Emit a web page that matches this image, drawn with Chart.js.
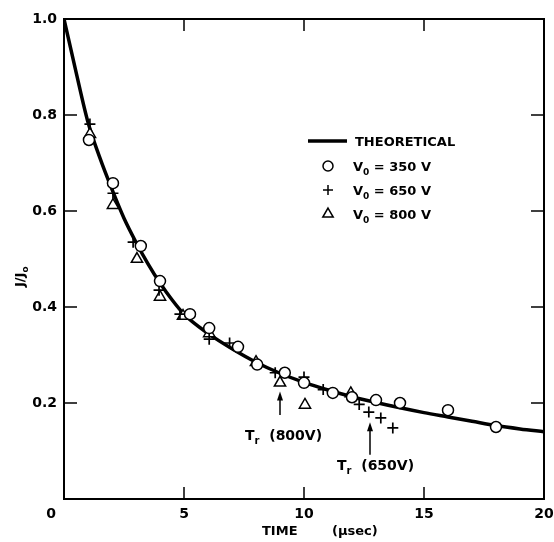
<!DOCTYPE html>
<html>
<head>
<meta charset="utf-8">
<script src="https://cdn.jsdelivr.net/npm/chart.js@4/dist/chart.umd.min.js"></script>
<style>
  html, body { margin: 0; padding: 0; background: #fff; }
  canvas { display: block; }
</style>
</head>
<body>
<canvas id="chart" width="554" height="542"></canvas>
<script>
// theoretical curve
const timeTheory = [0, 0.5, 1, 1.5, 2, 2.5, 3, 3.5, 4, 4.5, 5, 6, 7, 8, 9, 10, 11, 12, 13, 14, 15, 16, 17, 18, 19, 20];
const jTheory = [1.0, 0.89, 0.785, 0.71, 0.645, 0.585, 0.535, 0.49, 0.45, 0.415, 0.385, 0.345, 0.313, 0.285, 0.262, 0.243, 0.227, 0.213, 0.201, 0.19, 0.18, 0.171, 0.162, 0.153, 0.146, 0.14];

// measured points
const t350 = [1.04, 2.04, 3.2, 4.0, 5.25, 6.05, 7.25, 8.05, 9.2, 10.0, 11.2, 12.0, 13.0, 14.0, 16.0, 18.0];
const j350 = [0.748, 0.658, 0.527, 0.454, 0.385, 0.356, 0.317, 0.28, 0.263, 0.242, 0.221, 0.212, 0.206, 0.2, 0.185, 0.15];

const t650 = [1.08, 2.04, 2.88, 3.96, 4.83, 6.05, 6.9, 8.8, 10.0, 10.8, 12.3, 12.7, 13.2, 13.7];
const j650 = [0.781, 0.637, 0.535, 0.435, 0.385, 0.333, 0.325, 0.263, 0.254, 0.228, 0.197, 0.181, 0.169, 0.148];

const t800 = [1.08, 2.04, 3.04, 4.0, 4.96, 6.05, 8.0, 9.0, 10.04, 11.95];
const j800 = [0.76, 0.612, 0.5, 0.421, 0.381, 0.345, 0.285, 0.242, 0.196, 0.22];

const xTicks = [0, 5, 10, 15, 20];
const yTicks = [0.2, 0.4, 0.6, 0.8, 1.0];
const yTickLabels = ["0.2", "0.4", "0.6", "0.8", "1.0"];
const legendLabels = ["350", "650", "800"];
const trTimes = [9.0, 12.75];
const trLabels = ["800", "650"];

const FONT = '"DejaVu Sans", sans-serif';
const pts = (xs, ys) => xs.map((x, i) => ({ x: x, y: ys[i] }));

// text with subscripts: parts = [[text, isSub], ...]
function drawParts(ctx, parts, x, y, size) {
  let cx = x;
  parts.forEach(([txt, sub]) => {
    ctx.font = "bold " + (sub ? Math.round(size * 0.72) : size) + "px " + FONT;
    ctx.fillText(txt, cx, sub ? y + 4 : y);
    cx += ctx.measureText(txt).width;
  });
}

const framePlugin = {
  id: "frame",
  afterDatasetsDraw(chart) {
    const ctx = chart.ctx;
    const a = chart.chartArea;
    const xs = chart.scales.x, ys = chart.scales.y;
    ctx.save();
    ctx.strokeStyle = "#000";
    ctx.fillStyle = "#000";

    // box
    ctx.lineWidth = 2;
    ctx.strokeRect(a.left, a.top, a.right - a.left, a.bottom - a.top);

    // inward ticks
    ctx.lineWidth = 1.5;
    ctx.beginPath();
    xTicks.slice(1, -1).forEach(v => {
      const px = xs.getPixelForValue(v);
      ctx.moveTo(px, a.bottom); ctx.lineTo(px, a.bottom - 12);
      ctx.moveTo(px, a.top); ctx.lineTo(px, a.top + 12);
    });
    yTicks.slice(0, -1).forEach(v => {
      const py = ys.getPixelForValue(v);
      ctx.moveTo(a.left, py); ctx.lineTo(a.left + 13, py);
      ctx.moveTo(a.right, py); ctx.lineTo(a.right - 13, py);
    });
    ctx.stroke();

    // tick labels
    ctx.font = "bold 14px " + FONT;
    ctx.textBaseline = "middle";
    ctx.textAlign = "right";
    yTicks.forEach((v, i) => {
      ctx.fillText(yTickLabels[i], a.left - 7, ys.getPixelForValue(v));
    });
    ctx.textAlign = "center";
    xTicks.forEach(v => {
      let px = xs.getPixelForValue(v);
      if (v === 0) px -= 13;
      ctx.fillText(String(v), px, a.bottom + 15);
    });

    // axis titles
    ctx.textAlign = "left";
    ctx.textBaseline = "alphabetic";
    ctx.font = "bold 13px " + FONT;
    ctx.fillText("TIME", 262, 535);
    ctx.fillText("(\u03bcsec)", 332, 535);
    ctx.save();
    ctx.translate(24, 287);
    ctx.rotate(-Math.PI / 2);
    drawParts(ctx, [["J/J", false], ["o", true]], 0, 0, 13);
    ctx.restore();

    // legend
    ctx.lineWidth = 3.5;
    ctx.beginPath();
    ctx.moveTo(308, 141); ctx.lineTo(347, 141);
    ctx.stroke();
    ctx.font = "bold 13px " + FONT;
    ctx.fillText("THEORETICAL", 355, 146);
    const styles = ["circle", "cross", "triangle"];
    const rads = [5, 5, 6];
    legendLabels.forEach((lab, i) => {
      const y = 166 + i * 24;
      ctx.lineWidth = 1.5;
      ctx.fillStyle = "#fff";
      Chart.helpers.drawPoint(ctx, { pointStyle: styles[i], radius: rads[i], borderWidth: 1.5 }, 328, y);
      ctx.fillStyle = "#000";
      drawParts(ctx, [["V", false], ["0", true], [" = " + lab + " V", false]], 353, y + 5, 13);
    });

    // T_r arrows
    const textPos = [[245, 440], [337, 470]];
    const arrowSpan = [[0.224, 0.175], [0.16, 0.092]];
    trTimes.forEach((t, i) => {
      const px = xs.getPixelForValue(t);
      const yTip = ys.getPixelForValue(arrowSpan[i][0]);
      const yEnd = ys.getPixelForValue(arrowSpan[i][1]);
      ctx.lineWidth = 1.5;
      ctx.beginPath();
      ctx.moveTo(px, yEnd); ctx.lineTo(px, yTip + 4);
      ctx.stroke();
      ctx.beginPath();
      ctx.moveTo(px, yTip); ctx.lineTo(px - 3, yTip + 9); ctx.lineTo(px + 3, yTip + 9);
      ctx.closePath();
      ctx.fill();
      drawParts(ctx, [["T", false], ["r", true], ["  (" + trLabels[i] + "V)", false]], textPos[i][0], textPos[i][1], 14);
    });
    ctx.restore();
  }
};

new Chart(document.getElementById("chart"), {
  type: "scatter",
  data: {
    datasets: [
      {
        label: "THEORETICAL",
        data: pts(timeTheory, jTheory),
        showLine: true,
        borderColor: "#000",
        borderWidth: 3.5,
        pointRadius: 0,
        cubicInterpolationMode: "monotone",
        order: 2
      },
      {
        label: "V0 = 350V",
        data: pts(t350, j350),
        pointStyle: "circle",
        pointRadius: 5.5,
        borderWidth: 1.5,
        borderColor: "#000",
        backgroundColor: "#fff",
        order: 1
      },
      {
        label: "V0 = 650V",
        data: pts(t650, j650),
        pointStyle: "cross",
        pointRadius: 5.5,
        borderWidth: 1.7,
        borderColor: "#000",
        backgroundColor: "#fff",
        order: 1
      },
      {
        label: "V0 = 800V",
        data: pts(t800, j800),
        pointStyle: "triangle",
        pointRadius: 6.5,
        borderWidth: 1.5,
        borderColor: "#000",
        backgroundColor: "#fff",
        order: 1
      }
    ]
  },
  options: {
    responsive: false,
    animation: false,
    layout: { padding: { left: 64, right: 10, top: 19, bottom: 43 } },
    plugins: { legend: { display: false }, tooltip: { enabled: false } },
    scales: {
      x: { type: "linear", min: 0, max: 20, display: false },
      y: { type: "linear", min: 0, max: 1, display: false }
    }
  },
  plugins: [framePlugin]
});
</script>
</body>
</html>
